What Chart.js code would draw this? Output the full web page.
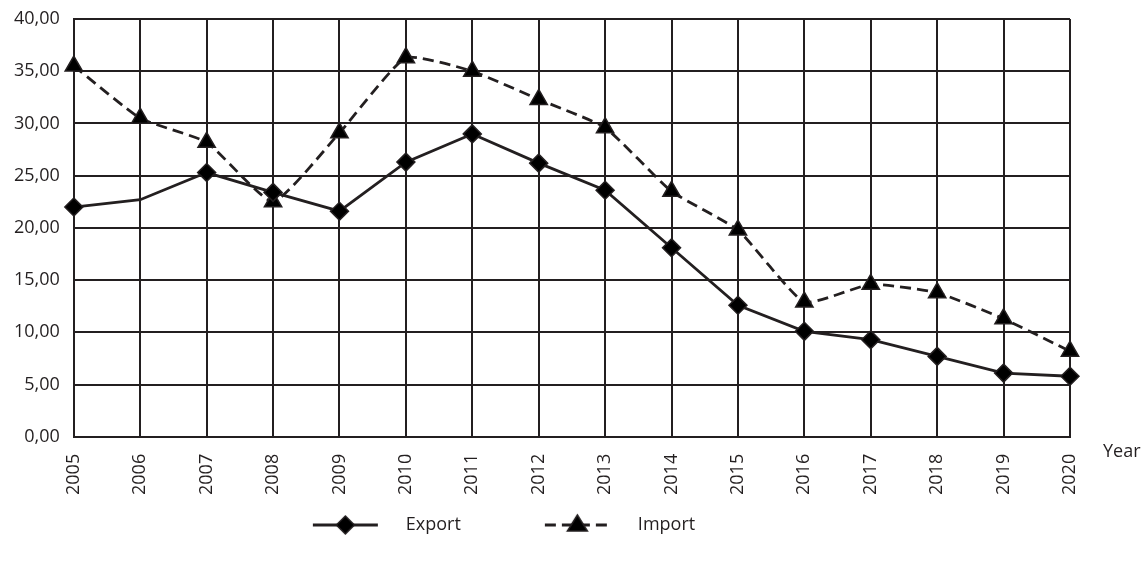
<!DOCTYPE html>
<html>
<head>
<meta charset="utf-8">
<script src="https://cdn.jsdelivr.net/npm/chart.js@4/dist/chart.umd.min.js"></script>
<style>
html,body{margin:0;padding:0;background:#fff;}
#wrap{width:1147px;height:562px;}
</style>
</head>
<body>
<div id="wrap"><canvas id="c"></canvas></div>
<script>
const years = ['2005','2006','2007','2008','2009','2010','2011','2012','2013','2014','2015','2016','2017','2018','2019','2020'];
const exportValues = [22.0, 22.7, 25.3, 23.4, 21.6, 26.3, 29.0, 26.2, 23.6, 18.1, 12.6, 10.1, 9.3, 7.7, 6.1, 5.8];
const importValues = [35.5, 30.5, 28.2, 22.5, 29.1, 36.3, 35.0, 32.3, 29.6, 23.5, 19.8, 12.9, 14.6, 13.8, 11.3, 8.2];
const yTicks = [0, 5, 10, 15, 20, 25, 30, 35, 40];
const axisTitle = 'Year';

const INK = '#231f20';
const FONT = "'Open Sans', 'DejaVu Sans', sans-serif";
const FSIZE = 18;

// legend glyph: transparent lead-in, 65px sample line with marker, then gap
const LEAD = 74, LINE = 65, TAIL = 19, GW = LEAD + LINE + TAIL;
function legendImage(type) {
  const c = document.createElement('canvas');
  c.width = GW; c.height = 24;
  const g = c.getContext('2d');
  g.strokeStyle = INK; g.fillStyle = '#000'; g.lineWidth = 2.8;
  if (type === 'import') g.setLineDash([11, 6]);
  g.beginPath(); g.moveTo(LEAD, 12); g.lineTo(LEAD + LINE, 12); g.stroke();
  g.setLineDash([]);
  g.lineWidth = 1.5;
  const cx = LEAD + LINE / 2;
  g.beginPath();
  if (type === 'export') {
    g.moveTo(cx, 3); g.lineTo(cx + 9, 12); g.lineTo(cx, 21); g.lineTo(cx - 9, 12); g.closePath();
  } else {
    g.moveTo(cx, 2); g.lineTo(cx + 10, 18); g.lineTo(cx - 10, 18); g.closePath();
  }
  g.fill(); g.stroke();
  return c;
}
const imgExport = legendImage('export');
const imgImport = legendImage('import');

const yearLabel = {
  id: 'yearLabel',
  afterLayout(chart) {
    // shift legend row to the left like the reference
    if (chart.legend) { chart.legend.left -= 68; chart.legend.right -= 68; }
  },
  afterDraw(chart) {
    const {ctx, chartArea} = chart;
    ctx.save();
    ctx.font = FSIZE + 'px ' + FONT;
    ctx.fillStyle = INK;
    ctx.textAlign = 'left';
    ctx.textBaseline = 'middle';
    ctx.fillText(axisTitle, chartArea.right + 33, chartArea.bottom + 15);
    ctx.restore();
  }
};

new Chart(document.getElementById('c'), {
  type: 'line',
  data: {
    labels: years,
    datasets: [
      {
        label: 'Export',
        data: exportValues,
        borderColor: INK,
        borderWidth: 2.8,
        backgroundColor: '#000',
        pointStyle: 'rectRot',
        pointRadius: exportValues.map((v, i) => i === 1 ? 0 : 9),
        pointBorderColor: INK,
        pointBorderWidth: 1.5,
        pointBackgroundColor: '#000',
        tension: 0,
        fill: false,
        clip: false
      },
      {
        label: 'Import',
        data: importValues,
        borderColor: INK,
        borderWidth: 2.8,
        borderDash: [11, 6],
        backgroundColor: '#000',
        pointStyle: 'triangle',
        pointRadius: 10,
        pointBorderColor: INK,
        pointBorderWidth: 1.5,
        pointBackgroundColor: '#000',
        tension: 0.15,
        fill: false,
        clip: false
      }
    ]
  },
  options: {
    responsive: true,
    maintainAspectRatio: false,
    animation: false,
    devicePixelRatio: 1,
    layout: { autoPadding: false, padding: { left: 0, right: 77, top: 0, bottom: 18 } },
    scales: {
      x: {
        offset: false,
        grid: { color: INK, lineWidth: 2, drawTicks: false },
        border: { color: INK, width: 2 },
        ticks: {
          color: INK, font: { family: FONT, size: FSIZE },
          maxRotation: 90, minRotation: 90, padding: 17, autoSkip: false
        },
        afterFit(axis) { axis.height -= 6; }
      },
      y: {
        min: 0, max: 40,
        afterBuildTicks(axis) { axis.ticks = yTicks.map(v => ({ value: v })); },
        afterFit(axis) { axis.paddingTop = 19; },
        grid: { color: INK, lineWidth: 2, drawTicks: false },
        border: { color: INK, width: 2 },
        ticks: {
          color: INK, font: { family: FONT, size: FSIZE }, padding: 14,
          callback: v => Number(v).toFixed(2).replace('.', ',')
        }
      }
    },
    plugins: {
      tooltip: { enabled: false },
      legend: {
        position: 'bottom',
        labels: {
          color: INK,
          font: { family: FONT, size: FSIZE },
          usePointStyle: true,
          pointStyleWidth: GW,
          padding: 10,
          generateLabels(chart) {
            return chart.data.datasets.map((d, i) => ({
              text: d.label,
              pointStyle: i === 0 ? imgExport : imgImport,
              fontColor: INK,
              datasetIndex: i,
              hidden: false,
              lineWidth: 0,
              strokeStyle: 'rgba(0,0,0,0)',
              fillStyle: 'rgba(0,0,0,0)'
            }));
          }
        }
      }
    }
  },
  plugins: [yearLabel]
});
</script>
</body>
</html>
